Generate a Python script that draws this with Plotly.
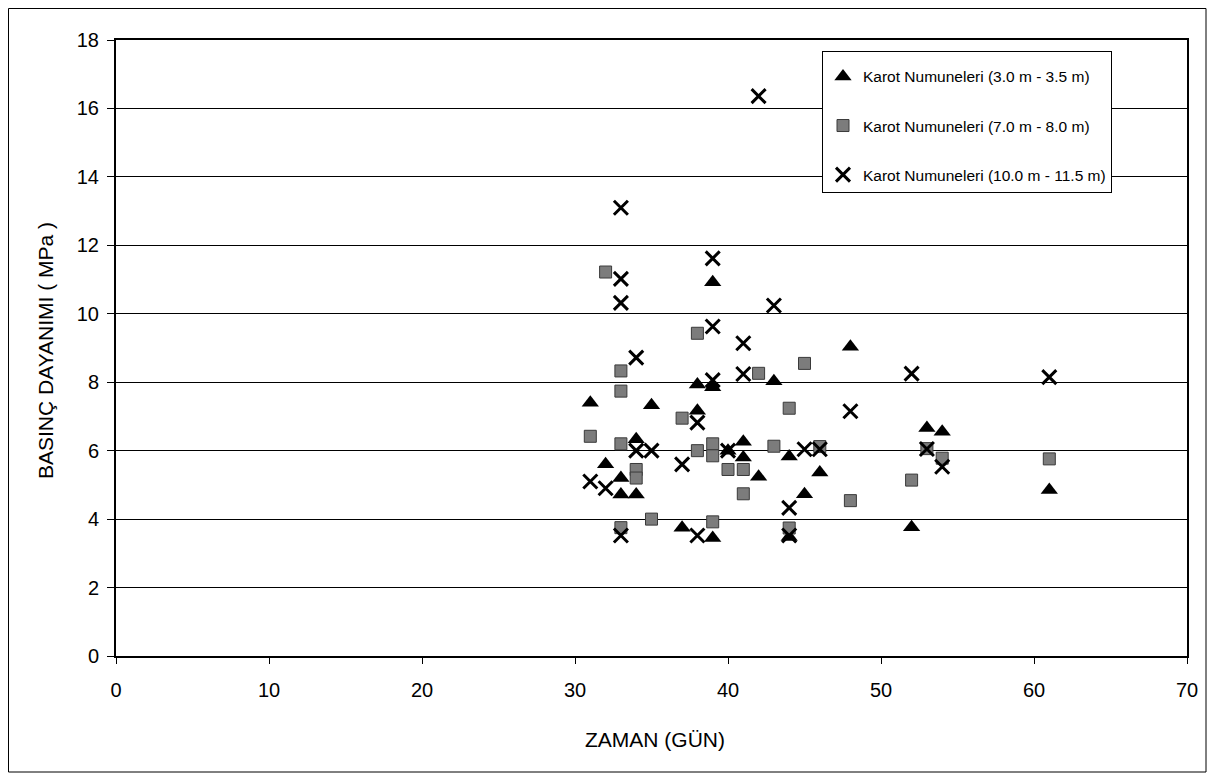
import plotly.graph_objects as go

# ---- data (days, MPa) ----
tri_days = [31, 32, 33, 33, 34, 34, 35, 37, 38, 38, 39, 39, 39, 40, 41, 41, 42, 43, 44, 44, 45, 46, 48, 52, 53, 54, 61]
tri_mpa = [7.4, 5.6, 5.2, 4.72, 4.72, 6.33, 7.33, 3.75, 7.93, 7.17, 10.92, 7.85, 3.45, 6.0, 6.26, 5.8, 5.24, 8.03, 5.83, 3.48, 4.73, 5.36, 9.04, 3.76, 6.66, 6.55, 4.85]

sq_days = [31, 32, 33, 33, 33, 33, 34, 34, 35, 37, 38, 38, 39, 39, 39, 40, 41, 41, 42, 43, 44, 44, 45, 46, 48, 52, 53, 54, 61]
sq_mpa = [6.42, 11.22, 8.33, 7.74, 6.2, 3.75, 5.45, 5.2, 4.0, 6.95, 9.43, 6.0, 6.2, 5.85, 3.92, 5.45, 5.45, 4.74, 8.26, 6.13, 7.24, 3.74, 8.55, 6.12, 4.54, 5.14, 6.06, 5.78, 5.76]

x_days = [31, 32, 33, 33, 33, 33, 34, 34, 35, 37, 38, 38, 39, 39, 39, 40, 41, 41, 42, 43, 44, 44, 45, 46, 48, 52, 53, 54, 61]
x_mpa = [5.1, 4.9, 13.1, 11.02, 10.32, 3.52, 8.72, 6.0, 6.0, 5.6, 6.82, 3.52, 11.62, 9.63, 8.06, 6.0, 9.14, 8.24, 16.36, 10.24, 4.33, 3.52, 6.04, 6.04, 7.15, 8.25, 6.05, 5.53, 8.15]

series_names = [
    "Karot Numuneleri (3.0 m - 3.5 m)",
    "Karot Numuneleri (7.0 m - 8.0 m)",
    "Karot Numuneleri (10.0 m - 11.5 m)",
]

x_ticks = [0, 10, 20, 30, 40, 50, 60, 70]
y_ticks = [0, 2, 4, 6, 8, 10, 12, 14, 16, 18]

FONT = "Arial, 'Liberation Sans', sans-serif"

# figure geometry (page is offset by the 8px body margin)
W, H = 1207, 770
L, R, T, B = 108, 28, 32, 122
PW, PH = W - L - R, H - T - B


def px(xp):  # page x -> paper x
    return (xp - 8 - L) / PW


def py(yp):  # page y -> paper y
    return (H - B - (yp - 8)) / PH


fig = go.Figure()
fig.add_trace(go.Scatter(
    x=tri_days, y=tri_mpa, mode="markers", name=series_names[0], legendgroup="a",
    marker=dict(symbol="triangle-up", size=15, color="black", line=dict(width=0)),
))
fig.add_trace(go.Scatter(
    x=sq_days, y=sq_mpa, mode="markers", name=series_names[1], legendgroup="b",
    marker=dict(symbol="square", size=12, color="#7c7c7c", line=dict(width=1, color="#3a3a3a")),
))
fig.add_trace(go.Scatter(
    x=x_days, y=x_mpa, mode="markers", name=series_names[2], legendgroup="c",
    marker=dict(symbol="x-thin", size=14, color="black", line=dict(width=3, color="black")),
))

fig.update_layout(
    width=W, height=H,
    margin=dict(l=L, r=R, t=T, b=B, pad=0),
    paper_bgcolor="white", plot_bgcolor="white",
    font=dict(family=FONT, color="black"),
    showlegend=True,
    legend=dict(
        x=px(822), y=py(51), xanchor="left", yanchor="top",
        bgcolor="white", bordercolor="black", borderwidth=1,
        font=dict(size=15.5, family=FONT, color="black"),
        traceorder="grouped", tracegroupgap=26,
        itemsizing="trace",
        title=dict(text=" ", font=dict(size=6)),
    ),
    xaxis=dict(
        range=[0, 70], tickvals=x_ticks, showgrid=False, zeroline=False,
        showline=True, linecolor="black", linewidth=2, mirror=True,
        ticks="outside", ticklen=6, tickwidth=1, tickcolor="black",
        tickfont=dict(size=20, family=FONT), ticklabelstandoff=9,
    ),
    yaxis=dict(
        range=[0, 18], tickvals=y_ticks, showgrid=True, gridcolor="black", gridwidth=1,
        zeroline=False,
        showline=True, linecolor="black", linewidth=2, mirror=True,
        ticks="outside", ticklen=7, tickwidth=1, tickcolor="black",
        tickfont=dict(size=20, family=FONT), ticklabelstandoff=4,
    ),
    annotations=[
        dict(text="ZAMAN (GÜN)", xref="paper", yref="paper", x=px(655), y=py(740),
             showarrow=False, font=dict(size=21, family=FONT), xanchor="center", yanchor="middle"),
        dict(text="BASINÇ DAYANIMI ( MPa )", xref="paper", yref="paper", x=px(45), y=py(351),
             showarrow=False, textangle=-90, font=dict(size=21, family=FONT), xanchor="center", yanchor="middle"),
    ],
    shapes=[
        dict(type="rect", xref="paper", yref="paper",
             x0=px(8.5), x1=px(1206), y0=py(772), y1=py(8.5),
             line=dict(color="black", width=1), fillcolor="rgba(0,0,0,0)", layer="below"),
    ],
)

fig.write_html("out.html")
